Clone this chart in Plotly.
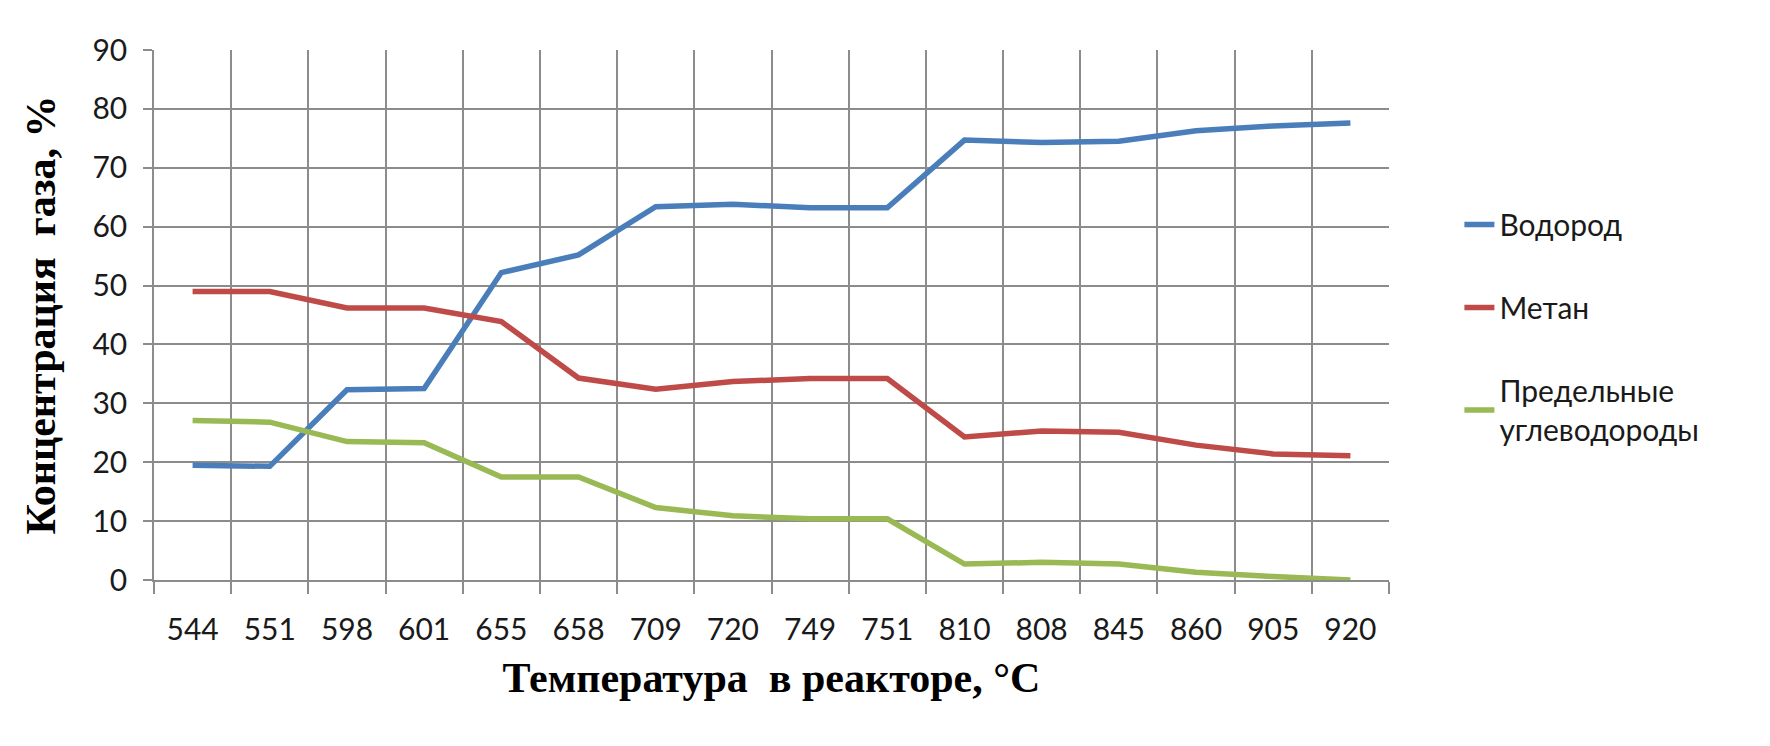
import plotly.graph_objects as go

temps = ["544", "551", "598", "601", "655", "658", "709", "720", "749", "751",
         "810", "808", "845", "860", "905", "920"]
hydrogen = [19.5, 19.3, 32.3, 32.5, 52.2, 55.2, 63.4, 63.8, 63.2, 63.2,
            74.7, 74.3, 74.5, 76.3, 77.1, 77.6]
methane = [49.0, 49.0, 46.2, 46.2, 43.9, 34.3, 32.4, 33.7, 34.2, 34.2,
           24.3, 25.3, 25.1, 22.9, 21.4, 21.1]
saturated = [27.1, 26.8, 23.5, 23.3, 17.5, 17.5, 12.3, 10.9, 10.4, 10.4,
             2.7, 3.0, 2.7, 1.3, 0.6, 0.0]

series_names = ["Водород", "Метан", "Предельные<br>углеводороды"]
series_colors = ["#4A7EBB", "#BE4B48", "#98B954"]
series_values = [hydrogen, methane, saturated]

fig = go.Figure()
for i, (name, col, vals) in enumerate(zip(series_names, series_colors, series_values)):
    fig.add_trace(go.Scatter(
        x=temps, y=vals, name=name, mode="lines",
        line=dict(color=col, width=5.5),
        legendgroup=f"g{i}",
    ))

tick_font = dict(family="Lato, 'Open Sans', sans-serif", size=30, color="#1a1a1a")
title_font = dict(family="'Liberation Serif', 'Times New Roman', serif", size=42, color="#000000")

fig.update_layout(
    width=1762, height=738,
    paper_bgcolor="white", plot_bgcolor="white",
    margin=dict(l=146, r=381, t=42, b=166),
    showlegend=True,
    legend=dict(
        x=1.057, y=0.72, xanchor="left", yanchor="top",
        font=tick_font, tracegroupgap=41,
        bgcolor="rgba(0,0,0,0)",
    ),
    xaxis=dict(
        type="category", range=[-0.5, 15.5],
        tickson="boundaries", ticks="outside", ticklen=12, tickcolor="#8c8c8c", tickwidth=1.5,
        showgrid=True, gridcolor="#8c8c8c", gridwidth=1.5,
        showline=True, linecolor="#8c8c8c", linewidth=1.5,
        tickfont=tick_font, ticklabelstandoff=22,
        title=dict(text="<b>Температура  в реакторе, °C</b>", font=title_font, standoff=18),
        zeroline=False,
    ),
    yaxis=dict(
        range=[0, 90], dtick=10, tick0=0,
        ticks="outside", ticklen=9, tickcolor="#8c8c8c", tickwidth=1.5,
        showgrid=True, gridcolor="#8c8c8c", gridwidth=1.5,
        showline=True, linecolor="#8c8c8c", linewidth=1.5,
        tickfont=tick_font, ticklabelstandoff=10,
        title=dict(text="<b>Концентрация  газа, %</b>", font=title_font, standoff=24),
        zeroline=False,
    ),
)

fig.write_html("out.html")
